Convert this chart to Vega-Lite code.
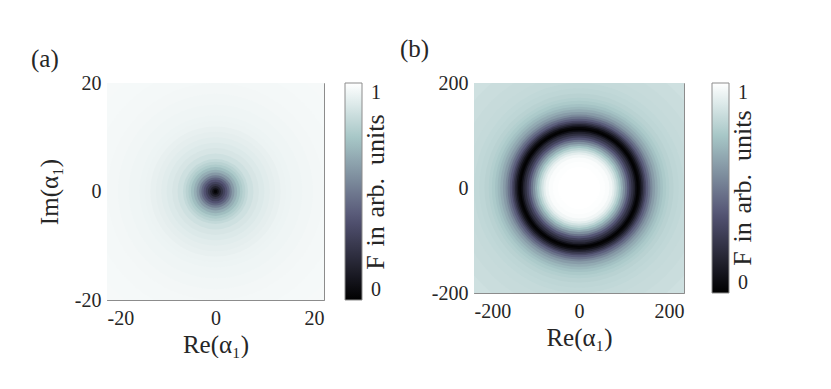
{
  "$schema": "https://vega.github.io/schema/vega-lite/v6.json",
  "background": "white",
  "padding": {"left": 30, "top": 36, "right": 0, "bottom": 0},
  "config": {
    "font": "Liberation Serif",
    "view": {"stroke": "#8c8c8c", "strokeWidth": 1},
    "axis": {
      "domain": false, "grid": false,
      "labelFont": "Liberation Serif", "labelFontSize": 20, "labelColor": "#262626",
      "titleFont": "Liberation Serif", "titleFontSize": 25, "titleFontWeight": "normal", "titleColor": "#262626",
      "tickColor": "#8c8c8c", "tickSize": -4, "labelPadding": 10,
      "labelExpr": "datum.value + ''"
    },
    "axisX": {"labelPadding": 12, "titlePadding": 4},
    "legend": {
      "labelFont": "Liberation Serif", "labelFontSize": 20, "labelColor": "#262626",
      "titleFont": "Liberation Serif", "titleFontSize": 26, "titleFontWeight": "normal", "titleColor": "#262626"
    },
    "title": {"font": "Liberation Serif", "fontSize": 25, "fontWeight": "normal", "anchor": "start", "frame": "group", "color": "#262626"},
    "concat": {"spacing": 8}
  },
  "resolve": {"scale": {"color": "independent"}, "legend": {"color": "independent"}},
  "hconcat": [
    {
      "width": 217, "height": 217,
      "title": {"text": "(a)", "dx": -76, "offset": 1},
      "data": {"values": [
        {"r": 30, "v": 0.975}, {"r": 26, "v": 0.972}, {"r": 23, "v": 0.97}, {"r": 20, "v": 0.965},
        {"r": 18, "v": 0.96}, {"r": 16, "v": 0.955}, {"r": 14, "v": 0.95}, {"r": 13, "v": 0.945},
        {"r": 12, "v": 0.935}, {"r": 11, "v": 0.925}, {"r": 10, "v": 0.915}, {"r": 9, "v": 0.9},
        {"r": 8, "v": 0.885}, {"r": 7, "v": 0.86}, {"r": 6, "v": 0.83}, {"r": 5.5, "v": 0.8},
        {"r": 5, "v": 0.77}, {"r": 4.5, "v": 0.72}, {"r": 4, "v": 0.67}, {"r": 3.5, "v": 0.6},
        {"r": 3, "v": 0.52}, {"r": 2.6, "v": 0.44}, {"r": 2.2, "v": 0.37}, {"r": 1.8, "v": 0.3},
        {"r": 1.4, "v": 0.23}, {"r": 1.0, "v": 0.15}, {"r": 0.6, "v": 0.07}, {"r": 0.3, "v": 0.02}
      ]},
      "mark": {"type": "arc", "clip": true, "theta": 0, "theta2": 6.2832, "strokeWidth": 0},
      "encoding": {
        "x": {"datum": 0, "type": "quantitative", "scale": {"domain": [-20, 20], "nice": false, "zero": false},
              "axis": {"values": [-20, 0, 20], "title": "Re(α₁)"}},
        "y": {"datum": 0, "type": "quantitative", "scale": {"domain": [-20, 20], "nice": false, "zero": false},
              "axis": {"values": [-20, 0, 20], "title": "Im(α₁)", "titlePadding": 12}},
        "radius": {"field": "r", "type": "quantitative", "stack": null, "scale": {"type": "linear", "domain": [0, 20], "range": [0, 108.5], "zero": true}},
        "color": {"field": "v", "type": "quantitative",
          "scale": {"domain": [0, 0.375, 0.75, 1], "range": ["#000000", "#545474", "#a7c7c7", "#ffffff"], "interpolate": "rgb"},
          "legend": {"values": [0, 1], "format": "d", "title": "F\u2004in\u2004arb.\u2002units", "direction": "vertical", "orient": "right",
            "gradientLength": 217, "gradientThickness": 17, "offset": 21,
            "gradientStrokeColor": "#8c8c8c", "gradientStrokeWidth": 1,
            "titleOrient": "right", "titleAnchor": "middle", "titlePadding": -18,
            "labelBaseline": "middle", "labelOffset": 9,
            "encode": {"title": {"update": {"angle": {"value": 270}, "baseline": {"value": "top"}}}}}}
      }
    },
    {
      "width": 210, "height": 210,
      "title": {"text": "(b)", "dx": -74, "offset": 11},
      "data": {"values": [
        {"r": 290, "v": 0.86}, {"r": 260, "v": 0.85}, {"r": 235, "v": 0.84}, {"r": 215, "v": 0.835},
        {"r": 200, "v": 0.825}, {"r": 190, "v": 0.815}, {"r": 180, "v": 0.8}, {"r": 172, "v": 0.785},
        {"r": 166, "v": 0.765}, {"r": 160, "v": 0.735}, {"r": 155, "v": 0.7}, {"r": 150, "v": 0.66},
        {"r": 145, "v": 0.61}, {"r": 140, "v": 0.55}, {"r": 136, "v": 0.48}, {"r": 132, "v": 0.41},
        {"r": 128, "v": 0.33}, {"r": 125, "v": 0.25}, {"r": 122, "v": 0.17}, {"r": 119, "v": 0.09},
        {"r": 116, "v": 0.03}, {"r": 113, "v": 0.01}, {"r": 110, "v": 0.06}, {"r": 107, "v": 0.14},
        {"r": 104, "v": 0.21}, {"r": 100, "v": 0.29}, {"r": 96, "v": 0.38}, {"r": 92, "v": 0.48},
        {"r": 88, "v": 0.57}, {"r": 84, "v": 0.66}, {"r": 80, "v": 0.74}, {"r": 76, "v": 0.81},
        {"r": 72, "v": 0.87}, {"r": 68, "v": 0.92}, {"r": 64, "v": 0.96}, {"r": 58, "v": 0.985},
        {"r": 50, "v": 0.995}, {"r": 40, "v": 1.0}
      ]},
      "mark": {"type": "arc", "clip": true, "theta": 0, "theta2": 6.2832, "strokeWidth": 0},
      "encoding": {
        "x": {"datum": 0, "type": "quantitative", "scale": {"domain": [-200, 200], "nice": false, "zero": false},
              "axis": {"values": [-200, 0, 200], "title": "Re(α₁)"}},
        "y": {"datum": 0, "type": "quantitative", "scale": {"domain": [-200, 200], "nice": false, "zero": false},
              "axis": {"values": [-200, 0, 200], "title": null}},
        "radius": {"field": "r", "type": "quantitative", "stack": null, "scale": {"type": "linear", "domain": [0, 200], "range": [0, 105], "zero": true}},
        "color": {"field": "v", "type": "quantitative",
          "scale": {"domain": [0, 0.375, 0.75, 1], "range": ["#000000", "#545474", "#a7c7c7", "#ffffff"], "interpolate": "rgb"},
          "legend": {"values": [0, 1], "format": "d", "title": "F\u2004in\u2004arb.\u2002units", "direction": "vertical", "orient": "right",
            "gradientLength": 210, "gradientThickness": 17, "offset": 28,
            "gradientStrokeColor": "#8c8c8c", "gradientStrokeWidth": 1,
            "titleOrient": "right", "titleAnchor": "middle", "titlePadding": -18,
            "labelBaseline": "middle", "labelOffset": 9,
            "encode": {"title": {"update": {"angle": {"value": 270}, "baseline": {"value": "top"}}}}}}
      }
    }
  ]
}
